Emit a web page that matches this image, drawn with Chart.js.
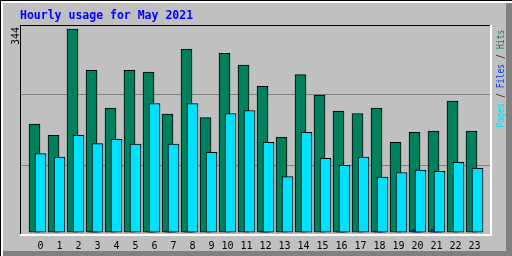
<!DOCTYPE html>
<html>
<head>
<meta charset="utf-8">
<script src="https://cdn.jsdelivr.net/npm/chart.js@4/dist/chart.umd.min.js"></script>
<style>
  html, body { margin: 0; padding: 0; background: #c0c0c0; }
  #wrap { position: relative; width: 512px; height: 256px; }
</style>
</head>
<body>
<div id="wrap"><canvas id="c" width="512" height="256"></canvas></div>
<script>
// Hourly usage for May 2021 (webalizer style)
const TITLE = 'Hourly usage for May 2021';
const HOURS = ['0', '1', '2', '3', '4', '5', '6', '7', '8', '9', '10', '11',
  '12', '13', '14', '15', '16', '17', '18', '19', '20', '21', '22', '23'];
const HITS = [183, 164, 344, 274, 210, 274, 271, 200, 310, 194, 303, 283,
  247, 161, 267, 232, 205, 201, 210, 152, 169, 171, 222, 171];
const FILES = [0, 0, 0, 2, 0, 0, 2, 2, 2, 0, 0, 0,
  2, 0, 0, 0, 2, 0, 2, 0, 4, 4, 0, 0];
const PAGES = [133, 127, 164, 150, 157, 149, 218, 149, 218, 135, 201, 206,
  152, 94, 169, 125, 113, 127, 93, 101, 105, 103, 118, 108];

const COL_HITS = '#00805c';
const COL_FILES = '#0040ff';
const COL_PAGES = '#00e0ff';

// bars of one hour overlap, shifted by a few pixels each
const SHIFT = 3 / 19;
const Y_MIN = -5;
const Y_MAX = 351;
const MONO = '"DejaVu Sans Mono", "Liberation Mono", monospace';

const toPoints = (vals, dx) => vals.map((v, i) => ({ x: i + dx, y: v }));

const framePlugin = {
  id: 'frame',
  beforeDraw(chart) {
    const ctx = chart.ctx;
    const w = chart.width, h = chart.height;
    ctx.save();
    ctx.fillStyle = '#c0c0c0';
    ctx.fillRect(0, 0, w, h);
    // outer bevel
    ctx.fillStyle = '#ffffff';
    ctx.fillRect(0, 0, w, 3);
    ctx.fillRect(0, 0, 3, h);
    ctx.fillStyle = '#808080';
    ctx.fillRect(w - 6, 3, 6, h - 3);
    ctx.fillRect(3, h - 5, w - 3, 5);
    ctx.fillStyle = '#000000';
    ctx.fillRect(0, 0, w, 1);
    ctx.fillRect(0, 0, 1, h);
    ctx.restore();
  },
  afterDatasetsDraw(chart) {
    const ctx = chart.ctx;
    const a = chart.chartArea;
    ctx.save();
    // inner inset box
    ctx.fillStyle = '#000000';
    ctx.fillRect(a.left, a.top, a.right - a.left, 1);
    ctx.fillRect(a.left, a.top, 1, a.bottom - a.top);
    ctx.fillStyle = '#ffffff';
    ctx.fillRect(a.left, a.bottom - 1, a.right - a.left + 1, 2);
    ctx.fillRect(a.right - 1, a.top, 2, a.bottom - a.top + 1);

    // title
    ctx.fillStyle = '#0000ff';
    ctx.font = 'bold 11.5px ' + MONO;
    ctx.textBaseline = 'alphabetic';
    ctx.textAlign = 'left';
    ctx.fillText(TITLE, 20, 19);

    // max value, rotated
    ctx.save();
    ctx.translate(19, 45);
    ctx.rotate(-Math.PI / 2);
    ctx.fillStyle = '#000000';
    ctx.font = '10px ' + MONO;
    ctx.fillText(String(Math.max(...HITS)), 0, 0);
    ctx.restore();

    // right side legend: Pages / Files / Hits
    const parts = [['Pages', COL_PAGES], [' / ', '#202020'], ['Files', COL_FILES],
      [' / ', '#202020'], ['Hits', COL_HITS]];
    ctx.save();
    ctx.font = '10.5px ' + MONO;
    const total = parts.reduce((s, p) => s + ctx.measureText(p[0]).width, 0);
    ctx.translate(504, 127.5);
    ctx.rotate(-Math.PI / 2);
    ctx.scale(98 / total, 1);
    let x = 0;
    parts.forEach(([txt, col]) => {
      ctx.fillStyle = col;
      ctx.fillText(txt, x, 0);
      x += ctx.measureText(txt).width;
    });
    ctx.restore();
    ctx.restore();
  }
};

new Chart(document.getElementById('c'), {
  type: 'bar',
  data: {
    datasets: [
      { label: 'Pages', data: toPoints(PAGES, SHIFT), backgroundColor: COL_PAGES },
      { label: 'Files', data: toPoints(FILES, 0), backgroundColor: COL_FILES },
      { label: 'Hits', data: toPoints(HITS, -SHIFT), backgroundColor: COL_HITS },
    ],
  },
  options: {
    responsive: false,
    animation: false,
    devicePixelRatio: 1,
    layout: { padding: { left: 20, top: 25, right: 21, bottom: 3 } },
    datasets: {
      bar: {
        grouped: false,
        barThickness: 11,
        borderColor: '#000000',
        borderWidth: 1,
        borderSkipped: false,
      },
    },
    plugins: { legend: { display: false }, tooltip: { enabled: false } },
    scales: {
      x: {
        type: 'linear',
        offset: false,
        min: -0.921,
        max: 23.868,
        grid: { display: false, drawTicks: false },
        border: { display: false },
        afterBuildTicks: (axis) => { axis.ticks = HOURS.map((_, i) => ({ value: i })); },
        afterFit: (axis) => { axis.height = 18; },
        ticks: {
          autoSkip: false,
          maxRotation: 0,
          padding: 5,
          color: '#000000',
          font: { family: MONO, size: 10 },
          callback: (v, i) => HOURS[i].padStart(2, ' '),
        },
      },
      y: {
        min: Y_MIN,
        max: Y_MAX,
        afterBuildTicks: (axis) => {
          axis.ticks = [1, 2].map((k) => ({ value: Y_MIN + (Y_MAX - Y_MIN) * k / 3 }));
        },
        afterFit: (axis) => { axis.width = 0; },
        ticks: { display: false },
        grid: { color: '#808080', drawTicks: false, lineWidth: 1 },
        border: { display: false },
      },
    },
  },
  plugins: [framePlugin],
});
</script>
</body>
</html>
